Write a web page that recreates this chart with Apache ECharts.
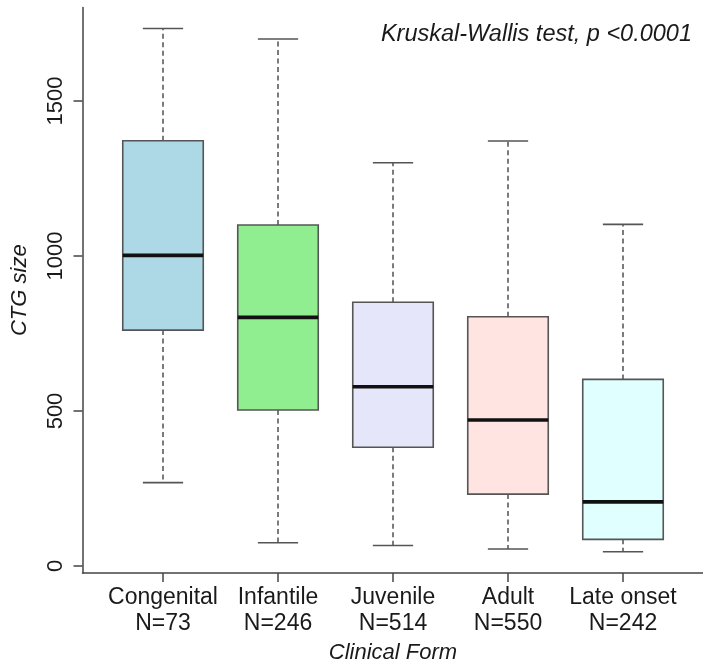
<!DOCTYPE html>
<html>
<head>
<meta charset="utf-8">
<script src="https://cdn.jsdelivr.net/npm/echarts@6/dist/echarts.min.js"></script>
<style>
html,body{margin:0;padding:0;background:#fff;}
#chart{width:703px;height:662px;}
</style>
</head>
<body>
<div id="chart"></div>
<script>
var categories = ['Congenital', 'Infantile', 'Juvenile', 'Adult', 'Late onset'];
var nCounts = [73, 246, 514, 550, 242];
var whiskerLow = [269, 75, 66, 55, 46];
var q1Values = [761, 503, 383, 232, 86];
var medianValues = [1002, 802, 578, 471, 207];
var q3Values = [1372, 1100, 851, 804, 602];
var whiskerHigh = [1734, 1700, 1301, 1371, 1102];
var fillColors = ['#ADD8E6', '#90EE90', '#E6E6FA', '#FFE4E1', '#E0FFFF'];
var yTicks = [0, 500, 1000, 1500];
var xPositions = [1, 2, 3, 4, 5];

var FONT = '"Liberation Sans", Arial, Helvetica, sans-serif';

var boxData = categories.map(function (c, i) {
  return [xPositions[i], whiskerLow[i], q1Values[i], medianValues[i], q3Values[i], whiskerHigh[i]];
});

var chart = echarts.init(document.getElementById('chart'));

function renderItem(params, api) {
  var i = params.dataIndex;
  var x = api.value(0);
  var pLow = api.coord([x, api.value(1)]);
  var pQ1 = api.coord([x, api.value(2)]);
  var pMed = api.coord([x, api.value(3)]);
  var pQ3 = api.coord([x, api.value(4)]);
  var pHigh = api.coord([x, api.value(5)]);
  var boxW = api.size([0.7, 0])[0];
  var capW = boxW / 2;
  var cx = pMed[0];
  var dashStyle = {stroke: '#444', lineWidth: 1.4, lineDash: [5, 3.5]};
  var capStyle = {stroke: '#555', lineWidth: 1.6};
  return {
    type: 'group',
    children: [
      {type: 'line', shape: {x1: cx, y1: pQ3[1], x2: cx, y2: pHigh[1]}, style: dashStyle},
      {type: 'line', shape: {x1: cx, y1: pQ1[1], x2: cx, y2: pLow[1]}, style: dashStyle},
      {type: 'line', shape: {x1: cx - capW / 2, y1: pHigh[1], x2: cx + capW / 2, y2: pHigh[1]}, style: capStyle},
      {type: 'line', shape: {x1: cx - capW / 2, y1: pLow[1], x2: cx + capW / 2, y2: pLow[1]}, style: capStyle},
      {type: 'rect', shape: {x: cx - boxW / 2, y: pQ3[1], width: boxW, height: pQ1[1] - pQ3[1]},
        style: {fill: fillColors[i], stroke: '#555', lineWidth: 1.6}},
      {type: 'line', shape: {x1: cx - boxW / 2, y1: pMed[1], x2: cx + boxW / 2, y2: pMed[1]},
        style: {stroke: '#111', lineWidth: 3.6}}
    ]
  };
}

var option = {
  animation: false,
  backgroundColor: '#ffffff',
  grid: {left: 82.5, width: 621, top: 7.4, height: 565.6, containLabel: false, outerBoundsMode: 'none'},
  xAxis: {
    type: 'value',
    min: 0.3,
    max: 5.7,
    splitLine: {show: false},
    axisLine: {show: true, onZero: false, lineStyle: {color: '#444', width: 1.5}},
    axisTick: {show: true, length: 9, customValues: xPositions, lineStyle: {color: '#444', width: 1.5}},
    axisLabel: {
      customValues: xPositions,
      margin: 12,
      fontFamily: FONT,
      fontSize: 23,
      lineHeight: 26,
      color: '#1a1a1a',
      formatter: function (v) {
        var idx = Math.round(v) - 1;
        return categories[idx] + '\nN=' + nCounts[idx];
      }
    },
    name: 'Clinical Form',
    nameLocation: 'middle',
    nameGap: 68,
    nameTextStyle: {fontFamily: FONT, fontSize: 22, fontStyle: 'italic', color: '#1a1a1a'}
  },
  yAxis: {
    type: 'value',
    min: -22.6,
    max: 1802,
    splitLine: {show: false},
    axisLine: {show: true, onZero: false, lineStyle: {color: '#444', width: 1.5}},
    axisTick: {show: true, length: 9, customValues: yTicks, lineStyle: {color: '#444', width: 1.5}},
    axisLabel: {
      customValues: yTicks,
      rotate: 90,
      margin: 16,
      fontFamily: FONT,
      fontSize: 22,
      color: '#1a1a1a',
      formatter: function (v) { return String(v); }
    },
    name: 'CTG size',
    nameLocation: 'middle',
    nameRotate: 90,
    nameGap: 52,
    nameTextStyle: {fontFamily: FONT, fontSize: 22, fontStyle: 'italic', color: '#1a1a1a'}
  },
  graphic: [{
    type: 'text',
    right: 11,
    top: 23,
    style: {
      text: 'Kruskal-Wallis test, p <0.0001',
      fontFamily: FONT,
      fontSize: 23.5,
      fontStyle: 'italic',
      fill: '#1a1a1a'
    }
  }],
  series: [{
    type: 'custom',
    renderItem: renderItem,
    encode: {x: 0, y: [1, 2, 3, 4, 5]},
    data: boxData,
    clip: false
  }]
};
chart.setOption(option);
</script>
</body>
</html>
